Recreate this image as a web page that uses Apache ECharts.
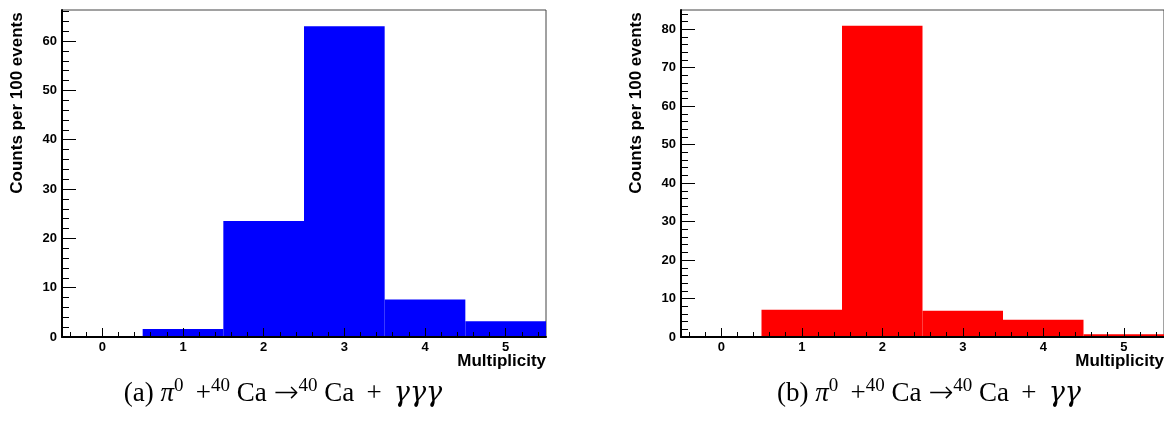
<!DOCTYPE html>
<html>
<head>
<meta charset="utf-8">
<script src="https://cdn.jsdelivr.net/npm/echarts@6/dist/echarts.min.js"></script>
<style>
  html, body { margin: 0; padding: 0; background: #fff; }
  #chart { width: 1164px; height: 425px; }
</style>
</head>
<body>
<div id="chart"></div>
<script>
// multiplicity bins and counts per 100 events
const multiplicity = [0, 1, 2, 3, 4, 5]
const countsGGG = [0, 1.6, 23.5, 63.0, 7.6, 3.2]   // (a) three photons
const countsGG = [0, 7.1, 80.9, 6.8, 4.5, 0.7]     // (b) two photons
const yTicksA = [0, 10, 20, 30, 40, 50, 60]
const yTicksB = [0, 10, 20, 30, 40, 50, 60, 70, 80]

const chart = echarts.init(document.getElementById('chart'))

const labelFont = { fontFamily: 'Liberation Sans', fontWeight: 'bold', fontSize: 13, color: '#000' }

const makeX = (gridIndex) => ({
  type: 'value',
  gridIndex,
  min: -0.5,
  max: 5.5,
  z: 5,
  splitLine: { show: false },
  axisLine: { onZero: false, lineStyle: { color: '#000', width: 2 } },
  axisTick: { inside: true, length: 9, customValues: multiplicity, lineStyle: { color: '#000', width: 1 } },
  minorTick: { show: true, splitNumber: 5, length: 5, lineStyle: { color: '#000', width: 1 } },
  axisLabel: { ...labelFont, margin: 4, customValues: multiplicity }
})

const makeY = (gridIndex, max, ticks) => ({
  type: 'value',
  gridIndex,
  min: 0,
  max,
  interval: 10,
  z: 5,
  splitLine: { show: false },
  axisLine: { onZero: false, lineStyle: { color: '#000', width: 2 } },
  axisTick: { inside: true, length: 14, customValues: ticks, lineStyle: { color: '#000', width: 1 } },
  minorTick: { show: true, splitNumber: 5, length: 7, lineStyle: { color: '#000', width: 1 } },
  axisLabel: { ...labelFont, margin: 5, customValues: ticks }
})

const histRender = (color) => (params, api) => {
  const x = api.value(0)
  const v = api.value(1)
  const p0 = api.coord([x - 0.5, 0])
  const p1 = api.coord([x + 0.5, v])
  return {
    type: 'rect',
    shape: { x: p0[0], y: p1[1], width: p1[0] - p0[0], height: p0[1] - p1[1] },
    style: { fill: color }
  }
}

const captionRich = {
  n: { fontFamily: 'Liberation Serif', fontSize: 27, lineHeight: 34, verticalAlign: 'middle', color: '#000' },
  i: { fontFamily: 'Liberation Serif', fontStyle: 'italic', fontSize: 27, lineHeight: 34, verticalAlign: 'middle', color: '#000' },
  g: { fontFamily: 'DejaVu Serif', fontStyle: 'italic', fontSize: 27, lineHeight: 34, verticalAlign: 'middle', color: '#000' },
  a: { fontFamily: 'DejaVu Sans', fontWeight: 'lighter', fontSize: 30, lineHeight: 34, verticalAlign: 'middle', color: '#000' },
  s: { fontFamily: 'Liberation Serif', fontSize: 19, lineHeight: 20, verticalAlign: 'top', color: '#000' }
}

const yTitle = (x) => ({
  type: 'text',
  x, y: 103,
  rotation: Math.PI / 2,
  style: { text: 'Counts per 100 events', font: 'bold 17px "Liberation Sans"', fill: '#000', align: 'center', verticalAlign: 'middle' }
})

const xTitle = (x) => ({
  type: 'text',
  x, y: 361,
  style: { text: 'Multiplicity', font: 'bold 17px "Liberation Sans"', fill: '#000', align: 'right', verticalAlign: 'middle' }
})

const caption = (x, text) => ({
  type: 'text',
  x, y: 394,
  style: { text, rich: captionRich, align: 'center', verticalAlign: 'middle' }
})

const option = {
  animation: false,
  grid: [
    { left: 62, top: 10, width: 484, height: 327, show: true, borderColor: '#444', borderWidth: 1 },
    { left: 681, top: 10, width: 484, height: 327, show: true, borderColor: '#444', borderWidth: 1 }
  ],
  xAxis: [makeX(0), makeX(1)],
  yAxis: [makeY(0, 66.3, yTicksA), makeY(1, 85.0, yTicksB)],
  series: [
    {
      type: 'custom',
      xAxisIndex: 0, yAxisIndex: 0,
      renderItem: histRender('#0000ff'),
      encode: { x: 0, y: 1 },
      data: multiplicity.map((m, i) => [m, countsGGG[i]])
    },
    {
      type: 'custom',
      xAxisIndex: 1, yAxisIndex: 1,
      renderItem: histRender('#ff0000'),
      encode: { x: 0, y: 1 },
      data: multiplicity.map((m, i) => [m, countsGG[i]])
    }
  ],
  graphic: [
    yTitle(17.5),
    yTitle(636),
    xTitle(546),
    xTitle(1164),
    caption(283, '{n|(a) }{i|π}{s|0}{n|\u2009 +}{s|40}{n| Ca }{a|→}{s|40}{n| Ca\u2009 + \u2009}{g|γγγ}'),
    caption(929, '{n|(b) }{i|π}{s|0}{n|\u2009 +}{s|40}{n| Ca }{a|→}{s|40}{n| Ca\u2009 + \u2009}{g|γγ}')
  ]
}

chart.setOption(option)
</script>
</body>
</html>
